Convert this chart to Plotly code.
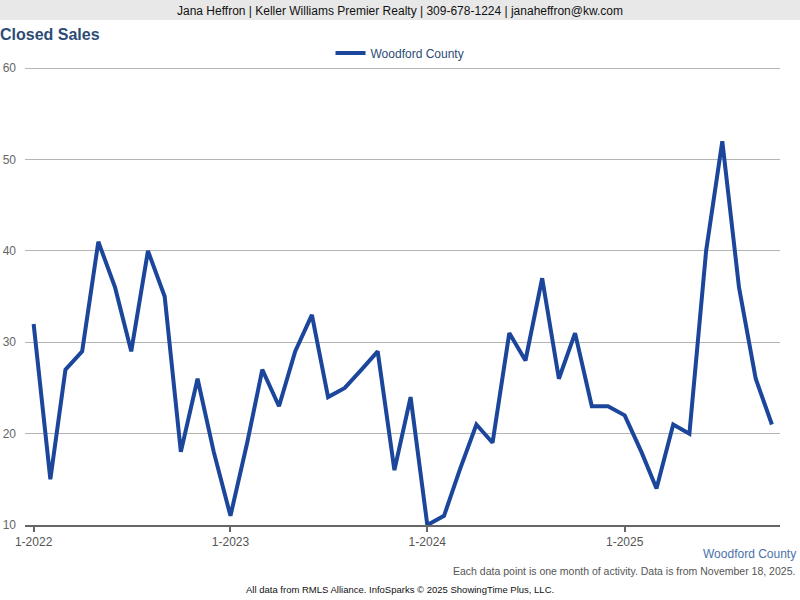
import pandas as pd
import plotly.graph_objects as go

series_name = "Woodford County"
months = pd.date_range("2022-01-01", periods=46, freq="MS")
closed_sales = [32, 15, 27, 29, 41, 36, 29, 40, 35, 18, 26, 18,
                11, 19, 27, 23, 29, 33, 24, 25, 27, 29, 16, 24,
                10, 11, 16, 21, 19, 31, 28, 37, 26, 31, 23, 23,
                22, 18, 14, 21, 20, 40, 52, 36, 26, 21]
tick_dates = ["2022-01-01", "2023-01-01", "2024-01-01", "2025-01-01"]
tick_labels = ["1-2022", "1-2023", "1-2024", "1-2025"]
y_ticks = [10, 20, 30, 40, 50, 60]

W, H = 800, 600
L, R, T, B = 25, 20, 67, 75
pw, ph = W - L - R, H - T - B


def px_x(x):
    return (x - L) / pw


def px_y(y):
    return (H - B - y) / ph


FONT = "Liberation Sans, Arial, sans-serif"

fig = go.Figure()
fig.add_trace(go.Scatter(
    x=months, y=closed_sales, mode="lines", name=series_name,
    line=dict(color="#1b469b", width=4),
))

fig.update_layout(
    width=W, height=H,
    margin=dict(l=L, r=R, t=T, b=B, autoexpand=False),
    paper_bgcolor="white", plot_bgcolor="white",
    font=dict(family=FONT, size=12, color="#555"),
    title=dict(text="<b>Closed Sales</b>", x=0.0, xref="container", xanchor="left",
               y=1 - 34 / H, yref="container", yanchor="middle",
               font=dict(family=FONT, size=16, color="#2d4c75")),
    showlegend=True,
    legend=dict(orientation="h", x=0.5, xref="container", xanchor="center",
                y=1 - 53 / H, yref="container", yanchor="middle",
                font=dict(family=FONT, size=12, color="#2d4c75"),
                itemwidth=30, bgcolor="rgba(0,0,0,0)"),
    xaxis=dict(type="date", range=["2021-12-16", "2025-10-16"],
               tickvals=tick_dates, ticktext=tick_labels,
               showgrid=False, zeroline=False,
               showline=True, linecolor="#666", linewidth=2,
               ticks="outside", ticklen=5, tickcolor="#666", tickwidth=2,
               tickfont=dict(family=FONT, size=12, color="#555")),
    yaxis=dict(range=[10, 60.12], tickvals=y_ticks, showgrid=True,
               gridcolor="#b4b4b4", gridwidth=1, zeroline=False,
               showline=False, ticks="", automargin=False,
               ticklabelstandoff=8,
               tickfont=dict(family=FONT, size=12, color="#666")),
    shapes=[dict(type="rect", xref="paper", yref="paper",
                 x0=px_x(0), x1=px_x(W), y0=px_y(20), y1=px_y(0),
                 fillcolor="#e8e8e8", line=dict(width=0), layer="below")],
    annotations=[
        dict(text="Jana Heffron | Keller Williams Premier Realty | 309-678-1224 | janaheffron@kw.com",
             xref="paper", yref="paper", x=px_x(400), y=px_y(11),
             xanchor="center", yanchor="middle", showarrow=False,
             font=dict(family=FONT, size=12, color="#111")),
        dict(text=series_name, xref="paper", yref="paper", x=px_x(798), y=px_y(554),
             xanchor="right", yanchor="middle", showarrow=False,
             font=dict(family=FONT, size=12, color="#4a72a8")),
        dict(text="Each data point is one month of activity. Data is from November 18, 2025.",
             xref="paper", yref="paper", x=px_x(797), y=px_y(571),
             xanchor="right", yanchor="middle", showarrow=False,
             font=dict(family=FONT, size=10.5, color="#555")),
        dict(text="All data from RMLS Alliance. InfoSparks © 2025 ShowingTime Plus, LLC.",
             xref="paper", yref="paper", x=px_x(400), y=px_y(589),
             xanchor="center", yanchor="middle", showarrow=False,
             font=dict(family=FONT, size=9.5, color="#111")),
    ],
)

fig.write_html("out.html",
               config={"displayModeBar": False},
               post_script="document.body.style.margin='0';document.body.style.overflow='hidden';")
